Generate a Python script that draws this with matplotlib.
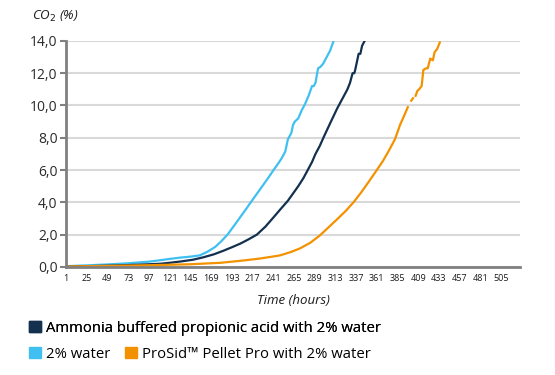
import numpy as np
import matplotlib
matplotlib.use('Agg')
import matplotlib.pyplot as plt
import matplotlib.ticker as mticker
from matplotlib.patches import Patch

# Hours and CO2 readings
waterHours = [1, 25, 49, 73, 97, 110, 121, 133, 145, 156, 165, 174, 181, 188, 196,
              203, 210, 216, 223, 229, 235, 241, 248, 251, 255, 258, 262, 264, 266,
              270, 274, 278, 282, 286, 288, 290, 293, 296, 299, 303, 307, 311]
waterCO2 = [0.05, 0.1, 0.16, 0.23, 0.33, 0.42, 0.5, 0.58, 0.64, 0.72, 0.95, 1.25,
            1.6, 2.0, 2.58, 3.1, 3.62, 4.08, 4.6, 5.05, 5.5, 5.97, 6.5, 6.75, 7.15,
            7.9, 8.3, 8.8, 9.0, 9.2, 9.7, 10.1, 10.6, 11.2, 11.2, 11.4, 12.3, 12.4,
            12.6, 13.0, 13.4, 14.0]

ammoniaHours = [1, 25, 49, 73, 97, 110, 121, 135, 148, 160, 172, 183, 193, 203, 212,
                222, 232, 241, 249, 258, 264, 270, 276, 281, 286, 290, 295, 300, 307,
                315, 322, 327, 330, 333, 335, 336, 338, 340, 342, 344, 347]
ammoniaCO2 = [0.02, 0.05, 0.08, 0.12, 0.17, 0.2, 0.26, 0.35, 0.45, 0.6, 0.78, 1.0,
              1.22, 1.45, 1.7, 2.0, 2.5, 3.05, 3.55, 4.1, 4.55, 5.0, 5.5, 6.0, 6.5,
              7.0, 7.5, 8.1, 8.9, 9.8, 10.5, 11.0, 11.4, 12.0, 12.0, 12.2, 12.7,
              13.2, 13.2, 13.7, 14.0]

prosidHours = [1, 49, 97, 145, 180, 206, 225, 241, 249, 261, 272, 284, 295, 305, 315,
               325, 334, 343, 352, 361, 368, 375, 382, 388, 393, 397, 399, 401, 403,
               404, 406, 408, 410, 413, 415, 418, 420, 423, 426, 428, 431, 434]
prosidCO2 = [0.03, 0.07, 0.11, 0.17, 0.26, 0.4, 0.52, 0.65, 0.72, 0.92, 1.15, 1.5,
             1.95, 2.45, 2.95, 3.47, 4.0, 4.62, 5.3, 6.0, 6.55, 7.2, 7.9, 8.8, 9.4,
             9.9, np.nan, 10.3, 10.45, np.nan, 10.6, 10.9, 11.0, 11.2, 12.2, 12.3,
             12.3, 12.9, 12.8, 13.3, 13.5, 13.9]

xTicks = list(range(1, 506, 24))
yTicks = [0, 2, 4, 6, 8, 10, 12, 14]

navy = '#13304f'
blue = '#40c0f0'
orange = '#f39200'

plt.rcParams['font.family'] = ['Open Sans', 'DejaVu Sans']

fig = plt.figure(figsize=(5.55, 3.75), dpi=100)
ax = fig.add_axes([0.119, 0.288, 0.818, 0.603])

ax.plot(waterHours, waterCO2, color=blue, lw=1.6, solid_joinstyle='round')
ax.plot(ammoniaHours, ammoniaCO2, color=navy, lw=1.6, solid_joinstyle='round')
ax.plot(prosidHours, prosidCO2, color=orange, lw=1.6, solid_joinstyle='round')

ax.set_xlim(1, 527)
ax.set_ylim(0, 14)
ax.set_xticks(xTicks)
ax.set_yticks(yTicks)
ax.yaxis.set_major_formatter(mticker.FuncFormatter(lambda v, p: ('%.1f' % v).replace('.', ',')))
ax.tick_params(axis='x', length=0, labelsize=6.5, pad=5, labelcolor='#1a1a1a')
ax.tick_params(axis='y', length=4, width=1.5, color='#808080', labelsize=10,
               pad=2, labelcolor='#2a2a2a')

ax.grid(axis='y', color='#d9d9d9', lw=1.5)
ax.set_axisbelow(True)
for s in ['top', 'right']:
    ax.spines[s].set_visible(False)
for s in ['left', 'bottom']:
    ax.spines[s].set_color('#808080')
    ax.spines[s].set_linewidth(2)
    ax.spines[s].set_zorder(5)

ax.set_xlabel('Time (hours)', fontsize=9.5, style='italic', labelpad=8, color='#1a1a1a')
fig.text(0.058, 0.955, 'CO$_2$ (%)', fontsize=9.5, style='italic', va='center', color='#1a1a1a')

# legend: one item on the first row, two on the second
leg1 = fig.legend(handles=[Patch(color=navy, label='Ammonia buffered propionic acid with 2% water')],
                  loc='center left', bbox_to_anchor=(0.052, 0.125), frameon=False,
                  fontsize=10.7, handlelength=0.8, handleheight=0.8, handletextpad=0.35,
                  borderpad=0, borderaxespad=0)
fig.legend(handles=[Patch(color=blue, label='2% water'),
                    Patch(color=orange, label='ProSid™ Pellet Pro with 2% water')],
           loc='center left', bbox_to_anchor=(0.052, 0.055), frameon=False, ncol=2,
           fontsize=10.7, handlelength=0.8, handleheight=0.8, handletextpad=0.35,
           columnspacing=1.0, borderpad=0, borderaxespad=0)
fig.add_artist(leg1)

fig.savefig('out.png', dpi=100)
